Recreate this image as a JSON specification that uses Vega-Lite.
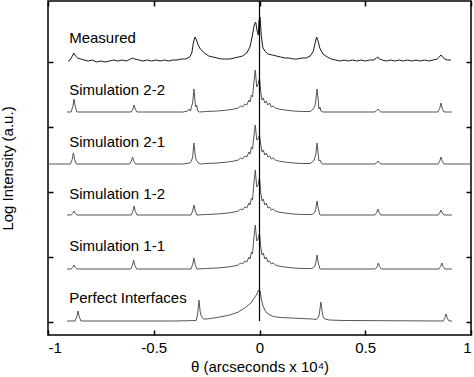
{
  "$schema": "https://vega.github.io/schema/vega-lite/v6.json",
  "width": 423,
  "height": 334,
  "autosize": {"type": "none"},
  "padding": {"left": 48, "top": 1, "right": 3, "bottom": 42},
  "background": "white",
  "config": {
    "view": {"stroke": "#000", "strokeWidth": 1.5},
    "font": "Liberation Sans",
    "axis": {"labelFont": "Liberation Sans", "titleFont": "Liberation Sans", "labelColor": "#000", "titleColor": "#000", "titleFontWeight": "normal", "tickColor": "#000", "grid": false, "domain": false}
  },
  "datasets": {
    "traces": [
      {"s":"Measured","x":-0.905,"y":274},{"s":"Measured","x":-0.895,"y":275},{"s":"Measured","x":-0.885,"y":279},{"s":"Measured","x":-0.878,"y":282},{"s":"Measured","x":-0.87,"y":279},{"s":"Measured","x":-0.86,"y":277},{"s":"Measured","x":-0.845,"y":276},{"s":"Measured","x":-0.83,"y":275},{"s":"Measured","x":-0.81,"y":274},{"s":"Measured","x":-0.79,"y":275},{"s":"Measured","x":-0.77,"y":273},{"s":"Measured","x":-0.75,"y":274},{"s":"Measured","x":-0.73,"y":273},{"s":"Measured","x":-0.71,"y":274},{"s":"Measured","x":-0.69,"y":275},{"s":"Measured","x":-0.67,"y":274},{"s":"Measured","x":-0.65,"y":275},{"s":"Measured","x":-0.63,"y":274},{"s":"Measured","x":-0.61,"y":276},{"s":"Measured","x":-0.6,"y":277},{"s":"Measured","x":-0.59,"y":276},{"s":"Measured","x":-0.57,"y":275},{"s":"Measured","x":-0.55,"y":274},{"s":"Measured","x":-0.53,"y":275},{"s":"Measured","x":-0.51,"y":274},{"s":"Measured","x":-0.49,"y":275},{"s":"Measured","x":-0.47,"y":274},{"s":"Measured","x":-0.45,"y":275},{"s":"Measured","x":-0.43,"y":274},{"s":"Measured","x":-0.41,"y":275},{"s":"Measured","x":-0.39,"y":275},{"s":"Measured","x":-0.37,"y":276},{"s":"Measured","x":-0.35,"y":276},{"s":"Measured","x":-0.33,"y":278},{"s":"Measured","x":-0.32,"y":282},{"s":"Measured","x":-0.313,"y":292},{"s":"Measured","x":-0.305,"y":298},{"s":"Measured","x":-0.298,"y":295},{"s":"Measured","x":-0.29,"y":290},{"s":"Measured","x":-0.28,"y":286},{"s":"Measured","x":-0.26,"y":282},{"s":"Measured","x":-0.24,"y":279},{"s":"Measured","x":-0.22,"y":278},{"s":"Measured","x":-0.2,"y":277},{"s":"Measured","x":-0.18,"y":276},{"s":"Measured","x":-0.16,"y":276},{"s":"Measured","x":-0.14,"y":276},{"s":"Measured","x":-0.12,"y":277},{"s":"Measured","x":-0.1,"y":278},{"s":"Measured","x":-0.08,"y":279},{"s":"Measured","x":-0.06,"y":282},{"s":"Measured","x":-0.045,"y":288},{"s":"Measured","x":-0.035,"y":298},{"s":"Measured","x":-0.025,"y":310},{"s":"Measured","x":-0.018,"y":313},{"s":"Measured","x":-0.012,"y":305},{"s":"Measured","x":-0.006,"y":300},{"s":"Measured","x":-0.002,"y":315},{"s":"Measured","x":0.003,"y":318},{"s":"Measured","x":0.008,"y":300},{"s":"Measured","x":0.015,"y":288},{"s":"Measured","x":0.025,"y":284},{"s":"Measured","x":0.04,"y":281},{"s":"Measured","x":0.06,"y":280},{"s":"Measured","x":0.08,"y":279},{"s":"Measured","x":0.1,"y":278},{"s":"Measured","x":0.12,"y":277},{"s":"Measured","x":0.14,"y":277},{"s":"Measured","x":0.16,"y":276},{"s":"Measured","x":0.18,"y":276},{"s":"Measured","x":0.2,"y":277},{"s":"Measured","x":0.22,"y":277},{"s":"Measured","x":0.24,"y":279},{"s":"Measured","x":0.255,"y":284},{"s":"Measured","x":0.263,"y":292},{"s":"Measured","x":0.27,"y":298},{"s":"Measured","x":0.277,"y":294},{"s":"Measured","x":0.285,"y":287},{"s":"Measured","x":0.3,"y":281},{"s":"Measured","x":0.32,"y":278},{"s":"Measured","x":0.34,"y":276},{"s":"Measured","x":0.36,"y":275},{"s":"Measured","x":0.38,"y":274},{"s":"Measured","x":0.4,"y":275},{"s":"Measured","x":0.42,"y":274},{"s":"Measured","x":0.44,"y":275},{"s":"Measured","x":0.46,"y":274},{"s":"Measured","x":0.48,"y":275},{"s":"Measured","x":0.5,"y":274},{"s":"Measured","x":0.52,"y":275},{"s":"Measured","x":0.54,"y":275},{"s":"Measured","x":0.553,"y":277},{"s":"Measured","x":0.56,"y":278},{"s":"Measured","x":0.567,"y":276},{"s":"Measured","x":0.58,"y":275},{"s":"Measured","x":0.6,"y":274},{"s":"Measured","x":0.62,"y":275},{"s":"Measured","x":0.64,"y":274},{"s":"Measured","x":0.66,"y":275},{"s":"Measured","x":0.68,"y":274},{"s":"Measured","x":0.7,"y":275},{"s":"Measured","x":0.72,"y":274},{"s":"Measured","x":0.74,"y":275},{"s":"Measured","x":0.76,"y":274},{"s":"Measured","x":0.78,"y":275},{"s":"Measured","x":0.8,"y":274},{"s":"Measured","x":0.82,"y":275},{"s":"Measured","x":0.84,"y":276},{"s":"Measured","x":0.85,"y":278},{"s":"Measured","x":0.858,"y":280},{"s":"Measured","x":0.866,"y":278},{"s":"Measured","x":0.875,"y":276},{"s":"Measured","x":0.89,"y":275},{"s":"Measured","x":0.905,"y":275},

      {"s":"S22","x":-0.91,"y":223},{"s":"S22","x":-0.891,"y":223},{"s":"S22","x":-0.883,"y":228.2},{"s":"S22","x":-0.877,"y":236},{"s":"S22","x":-0.871,"y":228.2},{"s":"S22","x":-0.863,"y":223},{"s":"S22","x":-0.607,"y":223},{"s":"S22","x":-0.599,"y":225.8},{"s":"S22","x":-0.593,"y":230},{"s":"S22","x":-0.587,"y":225.8},{"s":"S22","x":-0.579,"y":223},{"s":"S22","x":-0.36,"y":223},{"s":"S22","x":-0.34,"y":224},{"s":"S22","x":-0.332,"y":226},{"s":"S22","x":-0.326,"y":224},{"s":"S22","x":-0.322,"y":228},{"s":"S22","x":-0.316,"y":232},{"s":"S22","x":-0.31,"y":246},{"s":"S22","x":-0.304,"y":232},{"s":"S22","x":-0.301,"y":228},{"s":"S22","x":-0.297,"y":230},{"s":"S22","x":-0.292,"y":224},{"s":"S22","x":-0.285,"y":223},{"s":"S22","x":-0.25,"y":223.5},{"s":"S22","x":-0.2,"y":224},{"s":"S22","x":-0.15,"y":225},{"s":"S22","x":-0.12,"y":226},{"s":"S22","x":-0.1,"y":227},{"s":"S22","x":-0.09,"y":229},{"s":"S22","x":-0.08,"y":228},{"s":"S22","x":-0.07,"y":231},{"s":"S22","x":-0.06,"y":230},{"s":"S22","x":-0.05,"y":235},{"s":"S22","x":-0.045,"y":233},{"s":"S22","x":-0.038,"y":240},{"s":"S22","x":-0.033,"y":238},{"s":"S22","x":-0.027,"y":251},{"s":"S22","x":-0.02,"y":265},{"s":"S22","x":-0.013,"y":248},{"s":"S22","x":-0.006,"y":251},{"s":"S22","x":0,"y":257},{"s":"S22","x":0.006,"y":243},{"s":"S22","x":0.012,"y":235},{"s":"S22","x":0.018,"y":237},{"s":"S22","x":0.025,"y":232},{"s":"S22","x":0.032,"y":234},{"s":"S22","x":0.04,"y":230},{"s":"S22","x":0.048,"y":232},{"s":"S22","x":0.056,"y":228},{"s":"S22","x":0.065,"y":229},{"s":"S22","x":0.075,"y":227},{"s":"S22","x":0.09,"y":226},{"s":"S22","x":0.12,"y":225},{"s":"S22","x":0.16,"y":224},{"s":"S22","x":0.2,"y":223.5},{"s":"S22","x":0.24,"y":223.5},{"s":"S22","x":0.25,"y":225},{"s":"S22","x":0.256,"y":227},{"s":"S22","x":0.262,"y":229},{"s":"S22","x":0.266,"y":234},{"s":"S22","x":0.272,"y":246},{"s":"S22","x":0.278,"y":234},{"s":"S22","x":0.281,"y":226},{"s":"S22","x":0.286,"y":228},{"s":"S22","x":0.29,"y":224},{"s":"S22","x":0.3,"y":223},{"s":"S22","x":0.546,"y":223},{"s":"S22","x":0.554,"y":224.5},{"s":"S22","x":0.56,"y":226},{"s":"S22","x":0.566,"y":224.5},{"s":"S22","x":0.574,"y":223},{"s":"S22","x":0.844,"y":223},{"s":"S22","x":0.852,"y":226.6},{"s":"S22","x":0.858,"y":232},{"s":"S22","x":0.864,"y":226.6},{"s":"S22","x":0.872,"y":223},{"s":"S22","x":0.91,"y":223},

      {"s":"S21","x":-1,"y":171},{"s":"S21","x":-0.894,"y":171},{"s":"S21","x":-0.886,"y":175.4},{"s":"S21","x":-0.88,"y":182},{"s":"S21","x":-0.874,"y":175.4},{"s":"S21","x":-0.866,"y":171},{"s":"S21","x":-0.614,"y":171},{"s":"S21","x":-0.606,"y":173.8},{"s":"S21","x":-0.6,"y":178},{"s":"S21","x":-0.594,"y":173.8},{"s":"S21","x":-0.586,"y":171},{"s":"S21","x":-0.36,"y":171},{"s":"S21","x":-0.33,"y":172},{"s":"S21","x":-0.322,"y":174},{"s":"S21","x":-0.316,"y":178},{"s":"S21","x":-0.31,"y":192},{"s":"S21","x":-0.304,"y":180},{"s":"S21","x":-0.3,"y":175},{"s":"S21","x":-0.295,"y":174},{"s":"S21","x":-0.29,"y":172},{"s":"S21","x":-0.28,"y":171},{"s":"S21","x":-0.25,"y":171.5},{"s":"S21","x":-0.2,"y":172},{"s":"S21","x":-0.15,"y":173},{"s":"S21","x":-0.12,"y":174},{"s":"S21","x":-0.1,"y":175},{"s":"S21","x":-0.09,"y":177},{"s":"S21","x":-0.08,"y":176},{"s":"S21","x":-0.07,"y":179},{"s":"S21","x":-0.06,"y":178},{"s":"S21","x":-0.05,"y":183},{"s":"S21","x":-0.045,"y":181},{"s":"S21","x":-0.038,"y":188},{"s":"S21","x":-0.033,"y":186},{"s":"S21","x":-0.027,"y":198},{"s":"S21","x":-0.02,"y":210},{"s":"S21","x":-0.013,"y":195},{"s":"S21","x":-0.006,"y":196},{"s":"S21","x":0,"y":200},{"s":"S21","x":0.006,"y":190},{"s":"S21","x":0.012,"y":183},{"s":"S21","x":0.018,"y":185},{"s":"S21","x":0.025,"y":180},{"s":"S21","x":0.032,"y":182},{"s":"S21","x":0.04,"y":178},{"s":"S21","x":0.048,"y":179},{"s":"S21","x":0.056,"y":176},{"s":"S21","x":0.065,"y":177},{"s":"S21","x":0.075,"y":175},{"s":"S21","x":0.09,"y":174},{"s":"S21","x":0.12,"y":173},{"s":"S21","x":0.16,"y":172},{"s":"S21","x":0.2,"y":171.5},{"s":"S21","x":0.24,"y":171.5},{"s":"S21","x":0.25,"y":173},{"s":"S21","x":0.258,"y":175},{"s":"S21","x":0.266,"y":180},{"s":"S21","x":0.272,"y":192},{"s":"S21","x":0.278,"y":180},{"s":"S21","x":0.281,"y":174},{"s":"S21","x":0.286,"y":175},{"s":"S21","x":0.292,"y":172},{"s":"S21","x":0.3,"y":171},{"s":"S21","x":0.546,"y":171},{"s":"S21","x":0.554,"y":172.2},{"s":"S21","x":0.56,"y":174},{"s":"S21","x":0.566,"y":172.2},{"s":"S21","x":0.574,"y":171},{"s":"S21","x":0.844,"y":171},{"s":"S21","x":0.852,"y":173.8},{"s":"S21","x":0.858,"y":178},{"s":"S21","x":0.864,"y":173.8},{"s":"S21","x":0.872,"y":171},{"s":"S21","x":1,"y":171},

      {"s":"S12","x":-0.91,"y":120},{"s":"S12","x":-0.891,"y":120},{"s":"S12","x":-0.883,"y":121.6},{"s":"S12","x":-0.877,"y":124},{"s":"S12","x":-0.871,"y":121.6},{"s":"S12","x":-0.863,"y":120},{"s":"S12","x":-0.607,"y":120},{"s":"S12","x":-0.599,"y":123.6},{"s":"S12","x":-0.593,"y":129},{"s":"S12","x":-0.587,"y":123.6},{"s":"S12","x":-0.579,"y":120},{"s":"S12","x":-0.324,"y":120},{"s":"S12","x":-0.316,"y":124},{"s":"S12","x":-0.31,"y":130},{"s":"S12","x":-0.304,"y":124},{"s":"S12","x":-0.296,"y":120},{"s":"S12","x":-0.25,"y":120.5},{"s":"S12","x":-0.2,"y":121},{"s":"S12","x":-0.15,"y":122},{"s":"S12","x":-0.12,"y":123},{"s":"S12","x":-0.1,"y":124},{"s":"S12","x":-0.09,"y":126},{"s":"S12","x":-0.08,"y":125},{"s":"S12","x":-0.07,"y":128},{"s":"S12","x":-0.06,"y":127},{"s":"S12","x":-0.05,"y":132},{"s":"S12","x":-0.045,"y":130},{"s":"S12","x":-0.038,"y":137},{"s":"S12","x":-0.033,"y":135},{"s":"S12","x":-0.027,"y":150},{"s":"S12","x":-0.02,"y":165},{"s":"S12","x":-0.013,"y":148},{"s":"S12","x":-0.006,"y":150},{"s":"S12","x":0,"y":158},{"s":"S12","x":0.006,"y":142},{"s":"S12","x":0.012,"y":134},{"s":"S12","x":0.018,"y":136},{"s":"S12","x":0.025,"y":130},{"s":"S12","x":0.032,"y":132},{"s":"S12","x":0.04,"y":127},{"s":"S12","x":0.048,"y":128},{"s":"S12","x":0.056,"y":125},{"s":"S12","x":0.065,"y":126},{"s":"S12","x":0.075,"y":124},{"s":"S12","x":0.09,"y":123},{"s":"S12","x":0.12,"y":122},{"s":"S12","x":0.16,"y":121},{"s":"S12","x":0.2,"y":120.5},{"s":"S12","x":0.245,"y":120.5},{"s":"S12","x":0.256,"y":121.5},{"s":"S12","x":0.262,"y":123},{"s":"S12","x":0.266,"y":126},{"s":"S12","x":0.272,"y":134},{"s":"S12","x":0.278,"y":126},{"s":"S12","x":0.286,"y":120},{"s":"S12","x":0.546,"y":120},{"s":"S12","x":0.554,"y":122.4},{"s":"S12","x":0.56,"y":126},{"s":"S12","x":0.566,"y":122.4},{"s":"S12","x":0.574,"y":120},{"s":"S12","x":0.844,"y":120},{"s":"S12","x":0.852,"y":122},{"s":"S12","x":0.858,"y":125},{"s":"S12","x":0.864,"y":122},{"s":"S12","x":0.872,"y":120},{"s":"S12","x":0.91,"y":120},

      {"s":"S11","x":-0.91,"y":66},{"s":"S11","x":-0.891,"y":66},{"s":"S11","x":-0.883,"y":67.6},{"s":"S11","x":-0.877,"y":70},{"s":"S11","x":-0.871,"y":67.6},{"s":"S11","x":-0.863,"y":66},{"s":"S11","x":-0.609,"y":66},{"s":"S11","x":-0.601,"y":69.6},{"s":"S11","x":-0.595,"y":75},{"s":"S11","x":-0.589,"y":69.6},{"s":"S11","x":-0.581,"y":66},{"s":"S11","x":-0.324,"y":66},{"s":"S11","x":-0.316,"y":70.4},{"s":"S11","x":-0.31,"y":77},{"s":"S11","x":-0.304,"y":70.4},{"s":"S11","x":-0.296,"y":66},{"s":"S11","x":-0.25,"y":66.5},{"s":"S11","x":-0.2,"y":67},{"s":"S11","x":-0.15,"y":68},{"s":"S11","x":-0.12,"y":69},{"s":"S11","x":-0.1,"y":70},{"s":"S11","x":-0.09,"y":72},{"s":"S11","x":-0.08,"y":71},{"s":"S11","x":-0.07,"y":74},{"s":"S11","x":-0.06,"y":73},{"s":"S11","x":-0.05,"y":78},{"s":"S11","x":-0.045,"y":76},{"s":"S11","x":-0.038,"y":83},{"s":"S11","x":-0.033,"y":81},{"s":"S11","x":-0.027,"y":96},{"s":"S11","x":-0.02,"y":110},{"s":"S11","x":-0.013,"y":94},{"s":"S11","x":-0.006,"y":96},{"s":"S11","x":0,"y":102},{"s":"S11","x":0.006,"y":88},{"s":"S11","x":0.012,"y":80},{"s":"S11","x":0.018,"y":82},{"s":"S11","x":0.025,"y":76},{"s":"S11","x":0.032,"y":78},{"s":"S11","x":0.04,"y":73},{"s":"S11","x":0.048,"y":74},{"s":"S11","x":0.056,"y":71},{"s":"S11","x":0.065,"y":72},{"s":"S11","x":0.075,"y":70},{"s":"S11","x":0.09,"y":69},{"s":"S11","x":0.12,"y":68},{"s":"S11","x":0.16,"y":67},{"s":"S11","x":0.2,"y":66.5},{"s":"S11","x":0.245,"y":66.5},{"s":"S11","x":0.256,"y":67.5},{"s":"S11","x":0.262,"y":69},{"s":"S11","x":0.266,"y":72},{"s":"S11","x":0.272,"y":80},{"s":"S11","x":0.278,"y":72},{"s":"S11","x":0.286,"y":66},{"s":"S11","x":0.548,"y":66},{"s":"S11","x":0.556,"y":68.4},{"s":"S11","x":0.562,"y":72},{"s":"S11","x":0.568,"y":68.4},{"s":"S11","x":0.576,"y":66},{"s":"S11","x":0.848,"y":66},{"s":"S11","x":0.856,"y":68.4},{"s":"S11","x":0.862,"y":72},{"s":"S11","x":0.868,"y":68.4},{"s":"S11","x":0.876,"y":66},{"s":"S11","x":0.91,"y":66},

      {"s":"Perfect","x":-0.91,"y":14},{"s":"Perfect","x":-0.872,"y":14},{"s":"Perfect","x":-0.864,"y":18},{"s":"Perfect","x":-0.858,"y":24},{"s":"Perfect","x":-0.852,"y":18},{"s":"Perfect","x":-0.844,"y":14},{"s":"Perfect","x":-0.4,"y":14},{"s":"Perfect","x":-0.3,"y":14.5},{"s":"Perfect","x":-0.293,"y":20},{"s":"Perfect","x":-0.286,"y":35},{"s":"Perfect","x":-0.281,"y":24},{"s":"Perfect","x":-0.277,"y":20},{"s":"Perfect","x":-0.272,"y":18},{"s":"Perfect","x":-0.265,"y":16},{"s":"Perfect","x":-0.25,"y":16},{"s":"Perfect","x":-0.2,"y":17.5},{"s":"Perfect","x":-0.14,"y":20},{"s":"Perfect","x":-0.1,"y":23},{"s":"Perfect","x":-0.07,"y":27},{"s":"Perfect","x":-0.04,"y":32},{"s":"Perfect","x":-0.025,"y":37},{"s":"Perfect","x":-0.015,"y":40},{"s":"Perfect","x":-0.008,"y":43},{"s":"Perfect","x":-0.003,"y":45},{"s":"Perfect","x":0.003,"y":44},{"s":"Perfect","x":0.008,"y":37},{"s":"Perfect","x":0.015,"y":30},{"s":"Perfect","x":0.025,"y":25},{"s":"Perfect","x":0.035,"y":22},{"s":"Perfect","x":0.05,"y":20},{"s":"Perfect","x":0.065,"y":18.5},{"s":"Perfect","x":0.1,"y":17.5},{"s":"Perfect","x":0.15,"y":17},{"s":"Perfect","x":0.2,"y":16.5},{"s":"Perfect","x":0.25,"y":16},{"s":"Perfect","x":0.268,"y":15.5},{"s":"Perfect","x":0.276,"y":17},{"s":"Perfect","x":0.282,"y":20},{"s":"Perfect","x":0.286,"y":26},{"s":"Perfect","x":0.29,"y":33},{"s":"Perfect","x":0.296,"y":24},{"s":"Perfect","x":0.301,"y":18},{"s":"Perfect","x":0.31,"y":16},{"s":"Perfect","x":0.33,"y":15},{"s":"Perfect","x":0.4,"y":14.5},{"s":"Perfect","x":0.868,"y":14},{"s":"Perfect","x":0.876,"y":16.8},{"s":"Perfect","x":0.882,"y":21},{"s":"Perfect","x":0.888,"y":16.8},{"s":"Perfect","x":0.896,"y":14},{"s":"Perfect","x":0.91,"y":14}
    ],
    "spike": [{"x": 0, "y": 14, "y2": 334}],
    "labels": [
      {"label": "Measured", "x": -0.9, "y": 292},
      {"label": "Simulation 2-2", "x": -0.9, "y": 240},
      {"label": "Simulation 2-1", "x": -0.9, "y": 188},
      {"label": "Simulation 1-2", "x": -0.9, "y": 136},
      {"label": "Simulation 1-1", "x": -0.9, "y": 84},
      {"label": "Perfect Interfaces", "x": -0.9, "y": 32}
    ]
  },
  "layer": [
    {
      "data": {"name": "traces"},
      "mark": {"type": "line", "strokeWidth": 1, "clip": true},
      "encoding": {
        "x": {"field": "x", "type": "quantitative", "scale": {"domain": [-1, 1], "nice": false, "zero": false},
              "axis": {"orient": "bottom", "values": [-1, -0.5, 0, 0.5, 1], "tickSize": -5, "tickWidth": 1.5, "labelPadding": 10, "labelFontSize": 15, "title": "θ (arcseconds x 10⁴)", "titleFontSize": 15, "titlePadding": 4, "format": "~g", "labelExpr": "replace(datum.label, '−', '-')"}},
        "y": {"field": "y", "type": "quantitative", "scale": {"domain": [0, 334], "nice": false, "zero": false},
              "axis": {"orient": "left", "values": [13, 78, 143, 208, 273], "tickSize": -5, "tickWidth": 1.5, "labels": false, "title": "Log Intensity (a.u.)", "titleFontSize": 15, "titlePadding": 32}},
        "color": {"field": "s", "type": "nominal", "legend": null,
                  "scale": {"domain": ["Measured", "S22", "S21", "S12", "S11", "Perfect"], "range": ["#1a1a1a", "#555555", "#555555", "#555555", "#555555", "#555555"]}}
      }
    },
    {
      "data": {"name": "spike"},
      "mark": {"type": "rule", "color": "#000", "strokeWidth": 1.2},
      "encoding": {
        "x": {"field": "x", "type": "quantitative", "scale": {"domain": [-1, 1], "nice": false, "zero": false},
              "axis": {"orient": "top", "values": [-1, -0.5, 0, 0.5, 1], "tickSize": -5, "tickWidth": 1.5, "labels": false, "title": null}},
        "y": {"field": "y", "type": "quantitative", "scale": {"domain": [0, 334], "nice": false, "zero": false},
              "axis": {"orient": "right", "values": [13, 78, 143, 208, 273], "tickSize": -5, "tickWidth": 1.5, "labels": false, "title": null}},
        "y2": {"field": "y2"}
      }
    },
    {
      "data": {"name": "labels"},
      "mark": {"type": "text", "align": "left", "baseline": "alphabetic", "fontSize": 15, "font": "Liberation Sans", "color": "#000"},
      "encoding": {
        "x": {"field": "x", "type": "quantitative", "axis": null},
        "y": {"field": "y", "type": "quantitative", "axis": null},
        "text": {"field": "label"}
      }
    }
  ],
  "resolve": {"axis": {"x": "independent", "y": "independent"}}
}
